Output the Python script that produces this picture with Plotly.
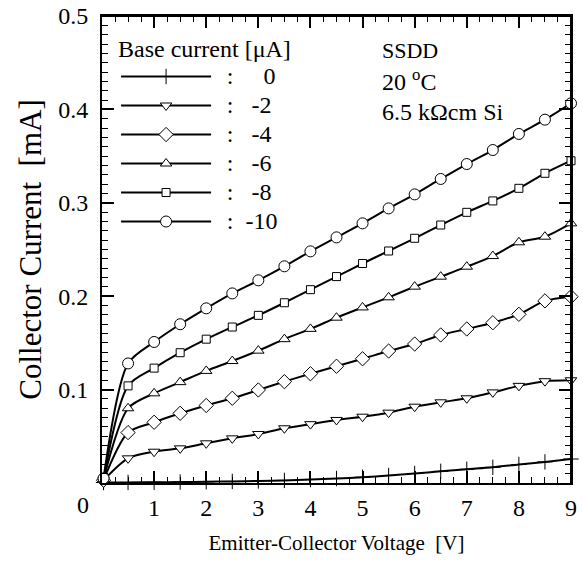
import plotly.graph_objects as go

# Data
voltage = [0.03, 0.5, 1.0, 1.5, 2.0, 2.5, 3.0, 3.5, 4.0, 4.5, 5.0, 5.5,
           6.0, 6.5, 7.0, 7.5, 8.0, 8.5, 9.0]
base_labels = ["0", "-2", "-4", "-6", "-8", "-10"]
ic_0 = [0.0005, 0.0006, 0.0008, 0.001, 0.0013, 0.0017, 0.0022, 0.0028, 0.0037,
        0.0048, 0.0062, 0.0080, 0.0102, 0.0125, 0.0147, 0.0168, 0.0198, 0.0226, 0.0257]
ic_2 = [0.003, 0.0264, 0.0335, 0.0371, 0.0425, 0.0478, 0.0525, 0.0586, 0.063,
        0.0675, 0.071, 0.0753, 0.0817, 0.0864, 0.0907, 0.097, 0.104, 0.109, 0.110]
ic_4 = [0.003, 0.054, 0.065, 0.0746, 0.083, 0.0907, 0.0996, 0.1085, 0.117,
        0.125, 0.133, 0.1413, 0.1488, 0.1585, 0.1649, 0.1716, 0.1806, 0.195, 0.1995]
ic_6 = [0.004, 0.080, 0.096, 0.108, 0.120, 0.1306, 0.1417, 0.154, 0.165,
        0.177, 0.188, 0.1988, 0.2102, 0.2209, 0.2316, 0.243, 0.2577, 0.2637, 0.278]
ic_8 = [0.004, 0.104, 0.123, 0.1395, 0.154, 0.167, 0.1795, 0.193, 0.207,
        0.221, 0.235, 0.2484, 0.262, 0.2762, 0.2898, 0.302, 0.3155, 0.3316, 0.345]
ic_10 = [0.005, 0.128, 0.151, 0.170, 0.187, 0.203, 0.217, 0.232, 0.248,
         0.263, 0.278, 0.294, 0.309, 0.3255, 0.3415, 0.3565, 0.3737, 0.389, 0.4065]
series = [ic_0, ic_2, ic_4, ic_6, ic_8, ic_10]

x_range = [0, 9]
y_range = [0, 0.5]
x_tick_vals = [0, 1, 2, 3, 4, 5, 6, 7, 8, 9]
x_tick_text = ["", "1", "2", "3", "4", "5", "6", "7", "8", "9"]
y_tick_vals = [0, 0.1, 0.2, 0.3, 0.4, 0.5]
y_tick_text = ["", "0.1", "0.2", "0.3", "0.4", "0.5"]

symbols = ["cross-thin-open", "triangle-down", "diamond", "triangle-up", "square", "circle"]
fills = ["black", "white", "white", "white", "white", "white"]
sizes = [11, 10, 11, 10, 8, 11]
NB = "\u00a0"
pads = [NB * 5, NB * 3, NB * 3, NB * 3, NB * 3, NB * 2]

FONT = "Liberation Serif, Times New Roman, serif"

fig = go.Figure()
for lab, ys, sym, fc, sz, pad in zip(base_labels, series, symbols, fills, sizes, pads):
    fig.add_trace(go.Scatter(
        x=voltage, y=ys, mode="lines+markers", cliponaxis=False,
        name='<span style="font-size:24px">' + NB + "\u2009:" + pad + lab + "</span>",
        line=dict(color="black", width=2, shape="spline", smoothing=0.8),
        marker=dict(symbol=sym, size=sz, color=fc,
                    line=dict(color="black", width=1)),
    ))

axis_common = dict(
    showline=True, linecolor="black", linewidth=2, mirror="ticks",
    ticks="inside", tickcolor="black", tickwidth=1.5, ticklen=12,
    showgrid=False, zeroline=False, automargin=False,
    ticklabeloverflow="allow",
    tickfont=dict(family=FONT, size=24, color="black"),
)
x_minor = dict(tickmode="linear", tick0=0, dtick=0.25, ticks="inside",
               ticklen=6, tickcolor="black", tickwidth=1.2)
y_minor = dict(tickmode="linear", tick0=0, dtick=0.01, ticks="inside",
               ticklen=6, tickcolor="black", tickwidth=1.2)

fig.update_layout(
    xaxis=dict(
        range=x_range, tickmode="array", tickvals=x_tick_vals, ticktext=x_tick_text,
        minor=x_minor, ticklabelstandoff=2,
        title=dict(text="Emitter-Collector Voltage\u00a0\u00a0[V]",
                   font=dict(family=FONT, size=21, color="black"), standoff=16),
        **axis_common,
    ),
    yaxis=dict(
        range=y_range, tickmode="array", tickvals=y_tick_vals, ticktext=y_tick_text,
        minor=y_minor, ticklabelstandoff=7,
        title=dict(text="Collector Current\u00a0\u00a0[mA]",
                   font=dict(family=FONT, size=31, color="black"), standoff=7),
        **axis_common,
    ),
    shapes=[
        dict(type="line", xref="paper", yref="paper", x0=0, x1=1, y0=1, y1=1,
             line=dict(color="black", width=2), layer="above"),
        dict(type="line", xref="paper", yref="paper", x0=1, x1=1, y0=0, y1=1,
             line=dict(color="black", width=2), layer="above"),
    ],
)

fig.update_layout(
    width=583, height=561,
    margin=dict(l=102, r=12, t=16, b=78),
    paper_bgcolor="white", plot_bgcolor="white",
    font=dict(family=FONT, size=20, color="black"),
    hovermode=False,
    showlegend=True,
    legend=dict(
        x=0.03, y=0.979, xanchor="left", yanchor="top",
        bgcolor="rgba(0,0,0,0)", borderwidth=0,
        itemwidth=90, tracegroupgap=0,
        title=dict(text="Base current [\u03bcA]", font=dict(family=FONT, size=24)),
        font=dict(family=FONT, size=20, color="black"),
    ),
    annotations=[
        dict(text="SSDD", xref="paper", yref="paper", x=0.592, y=0.927,
             xanchor="left", yanchor="middle", showarrow=False,
             font=dict(family=FONT, size=22, color="black")),
        dict(text="20 <sup>o</sup>C", xref="paper", yref="paper", x=0.592, y=0.862,
             xanchor="left", yanchor="middle", showarrow=False,
             font=dict(family=FONT, size=24, color="black")),
        dict(text="6.5 k\u03a9cm Si", xref="paper", yref="paper", x=0.592, y=0.794,
             xanchor="left", yanchor="middle", showarrow=False,
             font=dict(family=FONT, size=24, color="black")),
        dict(text="0", xref="paper", yref="paper", x=-0.0405, y=-0.047,
             xanchor="center", yanchor="middle", showarrow=False,
             font=dict(family=FONT, size=24, color="black")),
    ],
)

# remove the default 8px page margin so the 583x561 figure fills the window
fig.write_html("out.html",
               config={"displayModeBar": False},
               post_script="document.body.style.margin='0';document.body.style.overflow='hidden';")
